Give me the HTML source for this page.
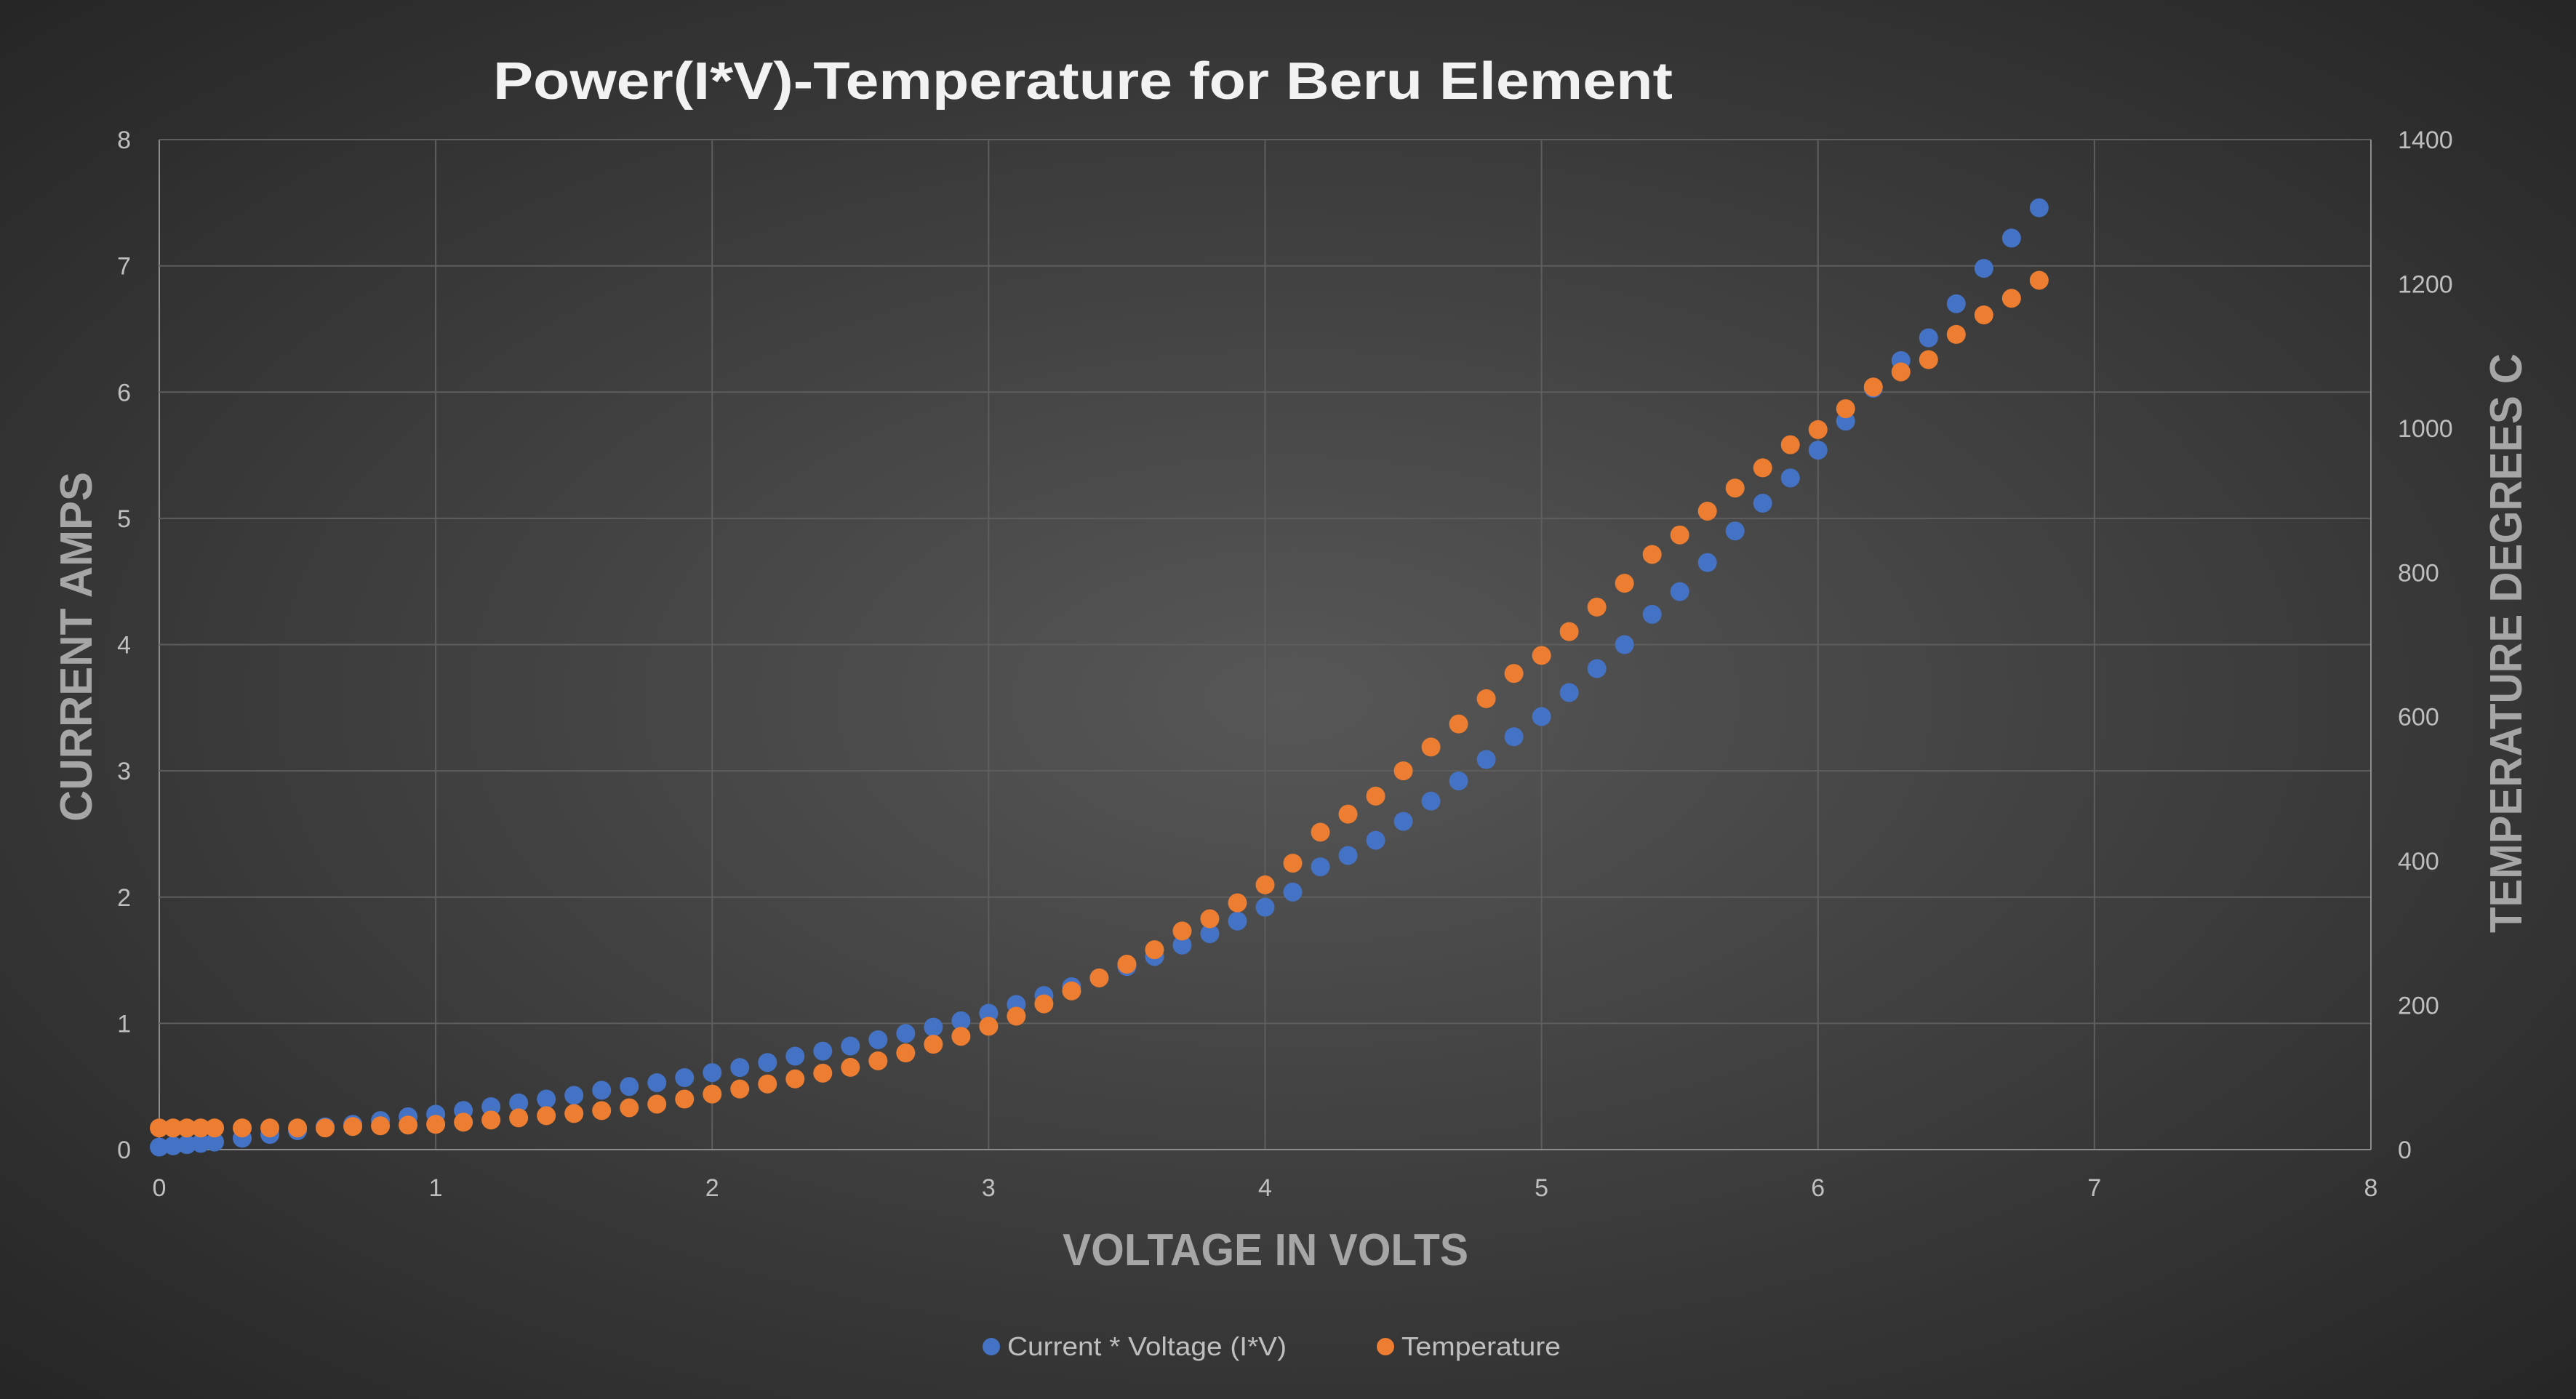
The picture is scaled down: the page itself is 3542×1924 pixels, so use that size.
<!DOCTYPE html>
<html><head><meta charset="utf-8"><style>
html,body{margin:0;padding:0;width:3542px;height:1924px;overflow:hidden;background:#333;}
svg{display:block;font-family:"Liberation Sans",sans-serif;}
</style></head><body>
<svg id="chart" width="3542" height="1924" viewBox="0 0 3542 1924" xmlns="http://www.w3.org/2000/svg">
<defs><radialGradient id="bg" cx="50%" cy="50%" r="70%">
<stop offset="0" stop-color="#575757"/><stop offset="1" stop-color="#262626"/></radialGradient></defs>
<rect width="3542" height="1924" fill="url(#bg)"/>
<text x="678" y="136" font-size="72" font-weight="bold" fill="#f2f2f2" textLength="1622" lengthAdjust="spacingAndGlyphs">Power(I*V)-Temperature for Beru Element</text>
<g id="grid"></g>
<g id="ticks"></g>
<g id="marks"></g>
<text x="1461" y="1740" font-size="62" font-weight="bold" fill="#a6a6a6" textLength="558" lengthAdjust="spacingAndGlyphs">VOLTAGE IN VOLTS</text>
<text transform="translate(126,1130) rotate(-90)" font-size="62" font-weight="bold" fill="#a6a6a6" textLength="481" lengthAdjust="spacingAndGlyphs">CURRENT AMPS</text>
<text transform="translate(3467,1283) rotate(-90)" font-size="62" font-weight="bold" fill="#a6a6a6" textLength="797" lengthAdjust="spacingAndGlyphs">TEMPERATURE DEGREES C</text>
<g>
<g><circle cx="1363" cy="1852" r="12" fill="#4472c4"/><text x="1385" y="1864" font-size="36" fill="#bfbfbf" textLength="384" lengthAdjust="spacingAndGlyphs">Current * Voltage (I*V)</text></g>
<g><circle cx="1905" cy="1852" r="12" fill="#ed7d31"/><text x="1927" y="1864" font-size="36" fill="#bfbfbf" textLength="219" lengthAdjust="spacingAndGlyphs">Temperature</text></g>
</g>
</svg>
<script>
const volts=[0,0.05,0.1,0.15,0.2,0.3,0.4,0.5,0.6,0.7,0.8,0.9,1.0,1.1,1.2,1.3,1.4,1.5,1.6,1.7,1.8,1.9,2.0,2.1,2.2,2.3,2.4,2.5,2.6,2.7,2.8,2.9,3.0,3.1,3.2,3.3,3.4,3.5,3.6,3.7,3.8,3.9,4.0,4.1,4.2,4.3,4.4,4.5,4.6,4.7,4.8,4.9,5.0,5.1,5.2,5.3,5.4,5.5,5.6,5.7,5.8,5.9,6.0,6.1,6.2,6.3,6.4,6.5,6.6,6.7,6.8];
const power=[0.02,0.03,0.04,0.05,0.06,0.09,0.12,0.15,0.18,0.2,0.23,0.26,0.28,0.31,0.34,0.37,0.4,0.43,0.47,0.5,0.53,0.57,0.61,0.65,0.69,0.74,0.78,0.82,0.87,0.92,0.97,1.02,1.08,1.15,1.22,1.29,1.36,1.45,1.53,1.62,1.71,1.81,1.92,2.04,2.24,2.33,2.45,2.6,2.76,2.92,3.09,3.27,3.43,3.62,3.81,4.0,4.24,4.42,4.65,4.9,5.12,5.32,5.54,5.77,6.03,6.25,6.43,6.7,6.98,7.22,7.46];
const temperature=[30,30,30,30,30,30,30,30,30,32,33,34,35,38,41,44,47,50,54,58,63,70,77,84,91,98,106,114,123,134,146,157,171,185,202,220,238,257,277,303,320,342,367,397,440,465,490,525,558,590,625,660,685,718,752,785,825,852,885,917,945,977,998,1027,1057,1078,1095,1130,1157,1180,1205];
const xTicks=[0,1,2,3,4,5,6,7,8];
const yTicks=[0,1,2,3,4,5,6,7,8];
const y2Ticks=[0,200,400,600,800,1000,1200,1400];
const X0=219,X1=3260,Y0=1581,Y1=192;
const xs=v=>X0+(v/8)*(X1-X0);
const ys=v=>Y0-(v/8)*(Y0-Y1);
const y2s=v=>Y0-(v/1400)*(Y0-Y1);
const NS="http://www.w3.org/2000/svg";
const grid=document.getElementById('grid'),ticks=document.getElementById('ticks'),marks=document.getElementById('marks');
function mk(tag,attrs,parent){const e=document.createElementNS(NS,tag);for(const k in attrs)e.setAttribute(k,attrs[k]);parent.appendChild(e);return e;}
xTicks.forEach(t=>{
 const l=mk('line',{x1:xs(t),x2:xs(t),y1:Y1,y2:Y0,stroke:t===0?'#8c8c8c':'#5e5e5e','stroke-width':2},grid);
 
 
 const tx=mk('text',{x:xs(t),y:1645,'font-size':34,fill:'#bfbfbf','text-anchor':'middle'},ticks);tx.textContent=t;
 
 
});
yTicks.forEach(t=>{
 const l=mk('line',{x1:X0,x2:X1,y1:ys(t),y2:ys(t),stroke:t===0?'#8c8c8c':'#5e5e5e','stroke-width':2},grid);
 
 
 const tx=mk('text',{x:180,y:ys(t)+12,'font-size':34,fill:'#bfbfbf','text-anchor':'end'},ticks);tx.textContent=t;
 
 
});
mk('line',{x1:X1,x2:X1,y1:Y1,y2:Y0,stroke:'#8c8c8c','stroke-width':2},grid);
y2Ticks.forEach(t=>{
 const tx=mk('text',{x:3297,y:y2s(t)+12,'font-size':34,fill:'#bfbfbf','text-anchor':'start'},ticks);tx.textContent=t;
 
 
});
volts.forEach((v,i)=>{
 const c=mk('circle',{cx:xs(v),cy:ys(power[i]),r:13,fill:'#4472c4'},marks);
 
 
});
volts.forEach((v,i)=>{
 const c=mk('circle',{cx:xs(v),cy:y2s(temperature[i]),r:13,fill:'#ed7d31'},marks);
 
 
});
</script>
</body></html>
